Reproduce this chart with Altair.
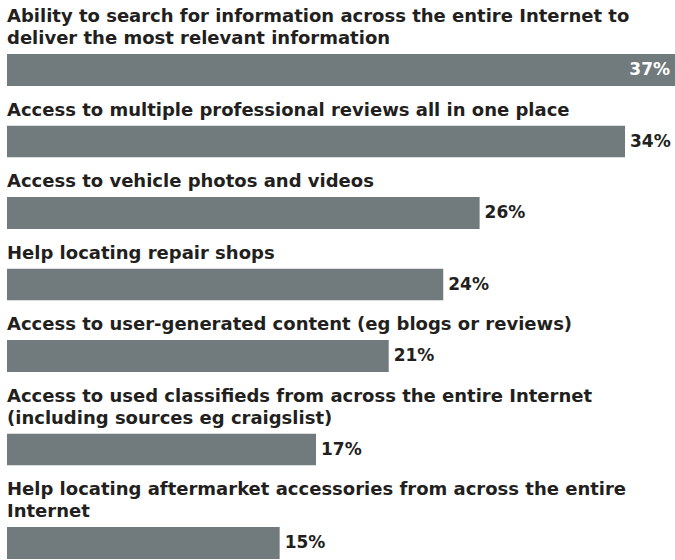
import altair as alt
import pandas as pd

# Survey items (label lines) and share of respondents, in percent
labels = [
    ["Ability to search for information across the entire Internet to",
     "deliver the most relevant information"],
    ["Access to multiple professional reviews all in one place"],
    ["Access to vehicle photos and videos"],
    ["Help locating repair shops"],
    ["Access to user-generated content (eg blogs or reviews)"],
    ["Access to used classifieds from across the entire Internet",
     "(including sources eg craigslist)"],
    ["Help locating aftermarket accessories from across the entire",
     "Internet"],
]
values = [37, 34, 26, 24, 21, 17, 15]

FONT = "DejaVu Sans"
BAR = "#717a7c"
INK = "#231f20"
W = 668
X_MAX = 36.75
LABEL_ROOM = 46  # horizontal room a value label needs beside its bar

panels = []
for lines, v in zip(labels, values):
    df = pd.DataFrame({"v": [v], "t": [f"{v}%"]})
    x = alt.X("v:Q", axis=None,
              scale=alt.Scale(domain=[0, X_MAX], clamp=True, nice=False))
    base = alt.Chart(df)
    bar = base.mark_bar(color=BAR, height=32, clip=True).encode(x=x)
    inside = min(v, X_MAX) / X_MAX * W + LABEL_ROOM > W
    txt = base.mark_text(
        font=FONT, fontSize=17, fontWeight="bold",
        align="right" if inside else "left",
        dx=-5 if inside else 5,
        color="white" if inside else INK,
    ).encode(x=x, text="t:N")
    panels.append(
        alt.layer(bar, txt).properties(
            width=W, height=32,
            title=alt.TitleParams(
                text=lines, anchor="start", font=FONT, fontSize=18,
                fontWeight="bold", color=INK, lineHeight=22, offset=6,
            ),
        )
    )

chart = (
    alt.vconcat(*panels, spacing=15.5)
    .properties(padding={"left": 7, "top": 8, "right": 0, "bottom": 0})
    .configure(background="white")
    .configure_view(strokeWidth=0, stroke="transparent")
)

chart.save("out.html", embed_options={"renderer": "svg", "actions": False})
